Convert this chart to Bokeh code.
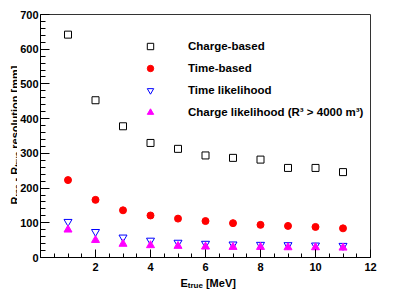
import numpy as np
from bokeh.plotting import figure
from bokeh.layouts import row, column
from bokeh.models import Legend, LegendItem, Label, FixedTicker, Range1d
from bokeh.embed import file_html
from bokeh.resources import INLINE

# ---- data ----
energy = [1, 2, 3, 4, 5, 6, 7, 8, 9, 10, 11]
charge_based = [642, 453, 378, 330, 313, 294, 287, 282, 258, 258, 246]
time_based = [223, 166, 136, 121, 112, 105, 99, 94, 91, 88, 84]
time_likelihood = [103, 74, 58, 49, 43, 40, 38, 37, 36, 35, 34]
charge_likelihood = [80, 50, 39, 35, 33, 31, 30, 30, 29, 29, 28]

x_major = [2, 4, 6, 8, 10, 12]
x_minor = [0.5 * i for i in range(1, 24)]
y_major = [0, 100, 200, 300, 400, 500, 600, 700]
y_minor = [20 * i for i in range(1, 35)]

FONT = "Liberation Sans"

# ---- main plot ----
p = figure(width=382, height=276, output_backend="svg", toolbar_location=None,
           x_range=Range1d(0, 12), y_range=Range1d(0, 700),
           min_border_left=21, min_border_right=29, min_border_top=14, min_border_bottom=19)
p.grid.visible = False
p.outline_line_color = "#333333"
p.outline_line_width = 1
p.background_fill_color = "white"
p.border_fill_color = "white"

for ax, major, minor, mlen, nlen in ((p.xaxis[0], x_major, x_minor, 8, 4),
                                     (p.yaxis[0], y_major, y_minor, 9, 5)):
    ax.ticker = FixedTicker(ticks=major, minor_ticks=minor)
    ax.major_tick_in = mlen
    ax.major_tick_out = 0
    ax.minor_tick_in = nlen
    ax.minor_tick_out = 0
    ax.axis_line_color = "black"
    ax.major_tick_line_color = "black"
    ax.minor_tick_line_color = "black"
    ax.major_label_text_font = FONT
    ax.major_label_text_font_style = "bold"
    ax.major_label_text_font_size = "11px"
    ax.major_label_text_color = "black"
p.xaxis.major_label_standoff = 5
p.yaxis.major_label_standoff = 2

r1 = p.scatter(energy, charge_based, marker="square", size=7, fill_color=None,
               line_color="black", line_width=1)
r2 = p.scatter(energy, time_based, marker="circle", size=7, fill_color="red",
               line_color="red")
r3 = p.scatter(energy, time_likelihood, marker="inverted_triangle", size=8, fill_color=None,
               line_color="blue", line_width=1)
r4 = p.scatter(energy, charge_likelihood, marker="triangle", size=8, fill_color="magenta",
               line_color="magenta")

legend = Legend(items=[
    LegendItem(label="Charge-based", renderers=[r1]),
    LegendItem(label="Time-based", renderers=[r2]),
    LegendItem(label="Time likelihood", renderers=[r3]),
    LegendItem(label="Charge likelihood (R\u00b3 > 4000 m\u00b3)", renderers=[r4]),
], location=(102, 136), glyph_width=16, glyph_height=18, label_height=18, spacing=4,
   label_standoff=30, padding=0, margin=0, border_line_color=None,
   background_fill_alpha=0, label_text_font=FONT, label_text_font_style="bold",
   label_text_font_size="11.5px", label_text_color="black")
p.add_layout(legend, "center")


# ---- axis titles (with subscripts) in small companion canvases ----
def blank(width, height):
    f = figure(width=width, height=height, output_backend="svg", toolbar_location=None,
               x_range=Range1d(0, 1), y_range=Range1d(0, 1),
               x_axis_type=None, y_axis_type=None,
               min_border_left=0, min_border_right=0, min_border_top=0, min_border_bottom=0)
    f.grid.visible = False
    f.outline_line_color = None
    f.background_fill_color = "white"
    f.border_fill_color = "white"
    return f


def lab(f, text, x, y, size, angle=0.0):
    f.add_layout(Label(x=x, y=y, x_units="screen", y_units="screen", text=text,
                       text_font=FONT, text_font_style="bold", text_font_size=size,
                       text_color="black", angle=angle, text_align="left",
                       text_baseline="alphabetic"))


SP = 3.06  # width of a space at 11px

# x title: E_true [MeV]
xf = blank(382, 14)
bx, by = 140, 8
lab(xf, "E", bx, by, "11px")
lab(xf, "true", bx + 7.3, by - 3, "8px")
lab(xf, "[MeV]", bx + 7.3 + 15.1 + SP, by, "11px")

# y title: R_rec - R_true resolution [mm], rotated
yf = blank(17, 290)
ang = np.pi / 2
yx, y0 = 14, 86
lab(yf, "R", yx, y0, "11px", ang)
lab(yf, "rec", yx + 3, y0 + 7.9, "8px", ang)
lab(yf, "- R", yx, y0 + 7.9 + 12.0 + SP, "11px", ang)
lab(yf, "true", yx + 3, y0 + 7.9 + 12.0 + SP + 14.7, "8px", ang)
lab(yf, "resolution [mm]", yx, y0 + 7.9 + 12.0 + SP + 14.7 + 15.1 + SP, "11px", ang)

layout = row(yf, column(p, xf, spacing=0), spacing=0)
open("out.html", "w").write(file_html(layout, INLINE))
